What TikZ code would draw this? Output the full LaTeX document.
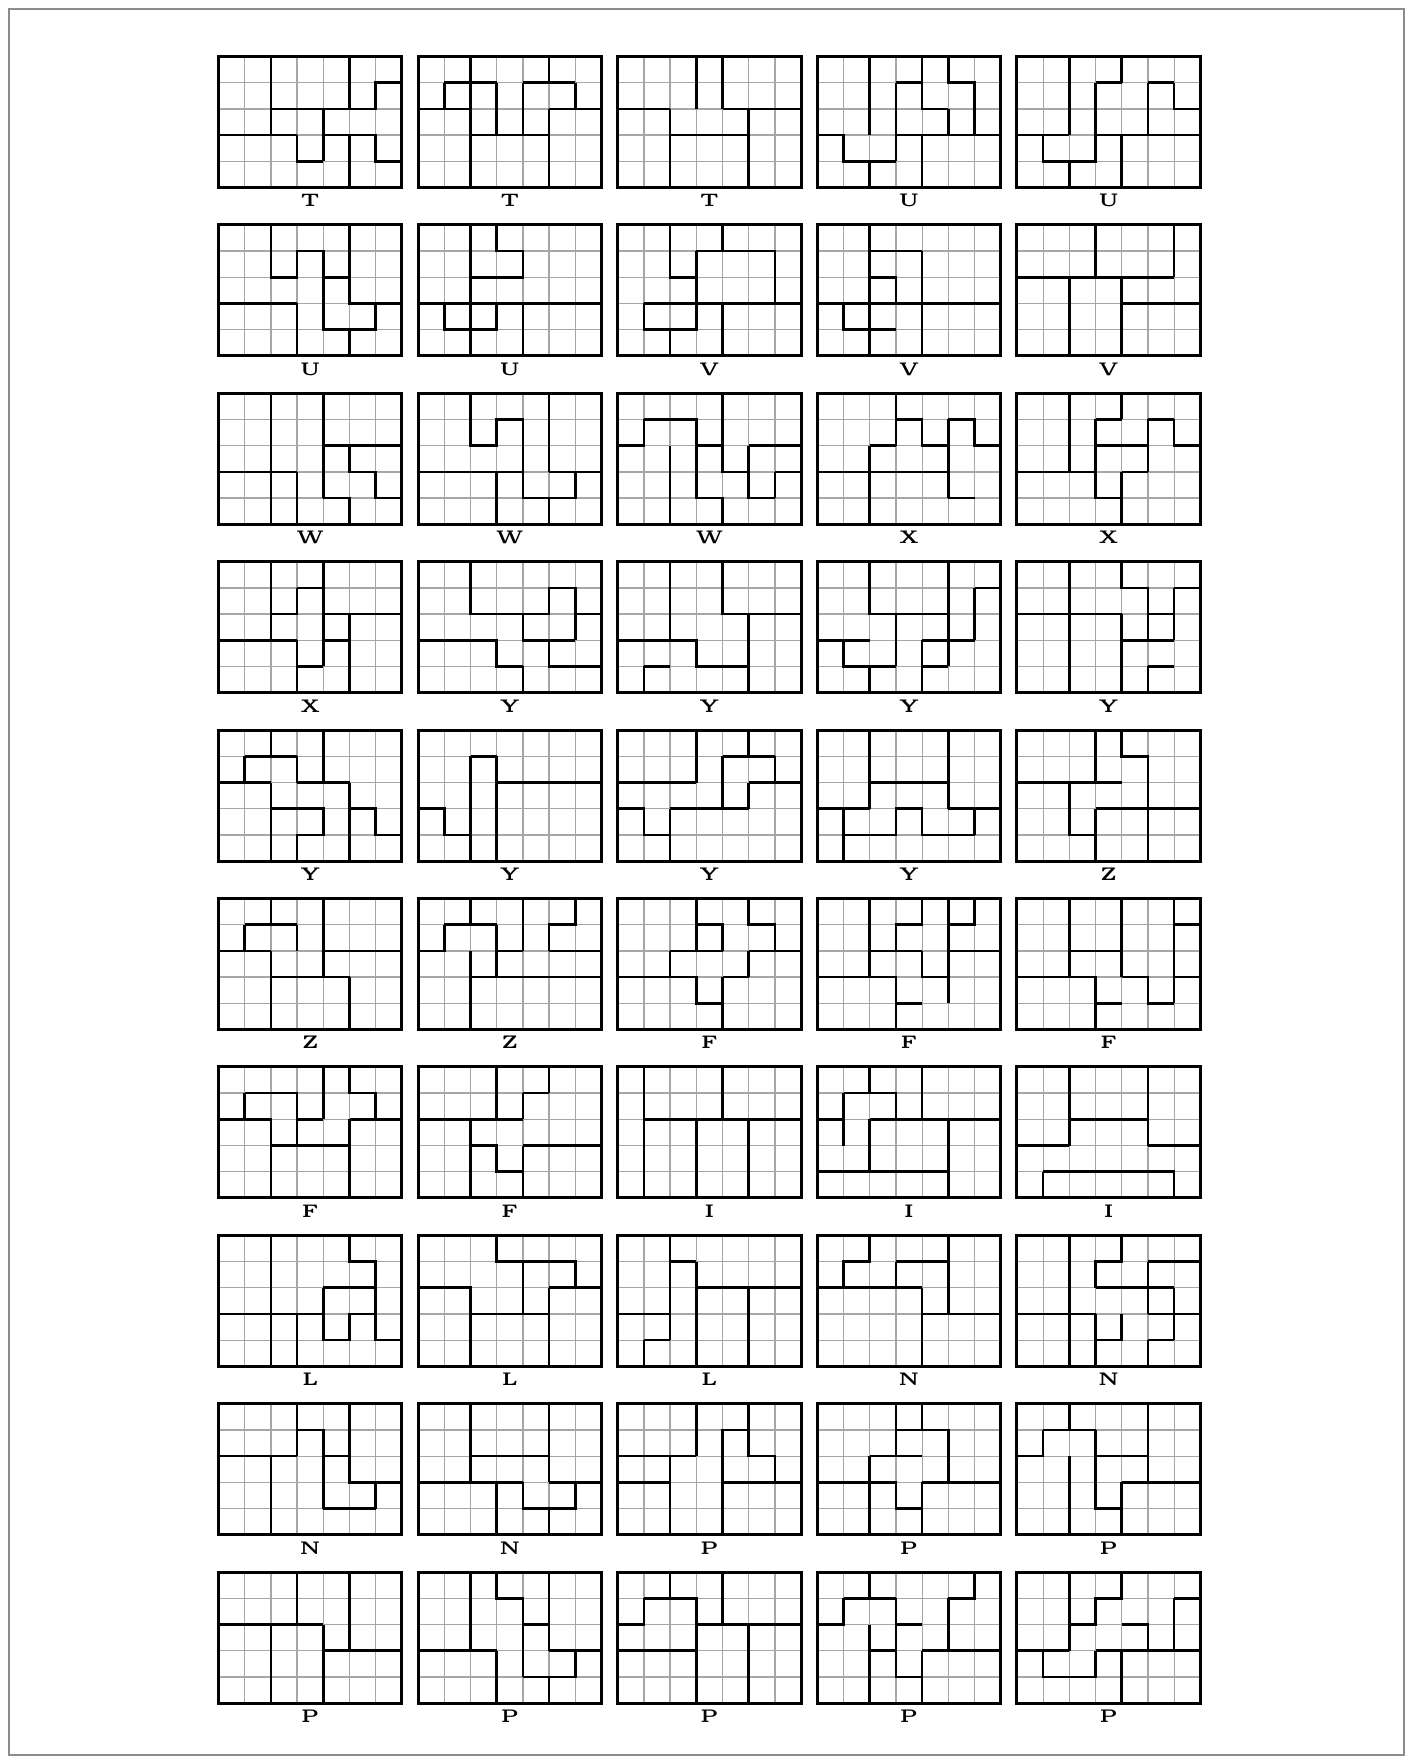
\documentclass[tikz,border=0pt]{standalone}
\usepackage{tikz}

% one 7x5 board: row, column, letter, thick piece edges (cell units, rows counted from the top)
\newcommand{\tilegrid}[4]{%
  \begin{scope}[xshift=2.185cm+#2*1.996cm, yshift=-0.565cm-#1*1.684cm, x=0.262cm, y=-0.262cm]
    \foreach \k in {1,...,6} \draw[cellline] (\k,0) -- (\k,5);
    \foreach \k in {1,...,4} \draw[cellline] (0,\k) -- (7,\k);
    \draw[piece] #4;
    \draw[frame] (0,0) rectangle (7,5);
    \node[lab] (lab-#1-#2) at (3.5,5.5) {#3};
  \end{scope}}

\begin{document}
\begin{tikzpicture}[
    cellline/.style={draw=black!35, line width=0.35pt},
    piece/.style={line width=0.75pt, line cap=square},
    frame/.style={line width=0.85pt},
    lab/.style={inner sep=0pt, font=\fontsize{5.2}{6}\selectfont\bfseries},
    pageframe/.style={draw=black!45, line width=0.4pt}]
\useasboundingbox (0,0) rectangle (14.13,-17.62);
\draw[pageframe] (0.09,-0.09) rectangle (14.04,-17.55);

% row 1
\tilegrid{0}{0}{T}{(2,0)--(2,3) (5,0)--(5,2) (2,2)--(6,2)--(6,1)--(7,1) (0,3)--(3,3) (4,2)--(4,4) (3,3)--(3,4)--(4,4) (4,3)--(6,3)--(6,4)--(7,4) (5,3)--(5,5)}
\tilegrid{0}{1}{T}{(2,0)--(2,5) (1,1)--(3,1) (1,1)--(1,2) (0,2)--(2,2) (3,1)--(3,3) (2,3)--(5,3) (4,1)--(4,3) (4,1)--(6,1) (5,0)--(5,1) (6,1)--(6,2) (5,2)--(7,2) (5,2)--(5,5)}
\tilegrid{0}{2}{T}{(3,0)--(3,2) (4,0)--(4,2) (0,2)--(2,2) (4,2)--(7,2) (2,2)--(2,5) (2,3)--(5,3) (5,2)--(5,5)}
\tilegrid{0}{3}{U}{(2,0)--(2,3) (3,1)--(4,1) (3,1)--(3,4) (4,0)--(4,2)--(5,2) (5,0)--(5,1)--(6,1)--(6,3) (5,2)--(5,3) (3,3)--(7,3) (4,3)--(4,5) (2,4)--(2,5) (0,3)--(1,3)--(1,4)--(3,4)}
\tilegrid{0}{4}{U}{(2,0)--(2,3) (3,1)--(4,1) (4,0)--(4,1) (3,1)--(3,3) (5,1)--(6,1) (5,1)--(5,3) (6,1)--(6,2)--(7,2) (0,3)--(2,3) (1,3)--(1,4)--(3,4)--(3,3) (3,3)--(7,3) (4,3)--(4,5) (2,4)--(2,5)}

% row 2
\tilegrid{1}{0}{U}{(2,0)--(2,2)--(3,2)--(3,1)--(4,1)--(4,2)--(5,2) (5,0)--(5,3)--(7,3) (4,2)--(4,4)--(6,4)--(6,3) (0,3)--(3,3) (3,3)--(3,5) (5,4)--(5,5)}
\tilegrid{1}{1}{U}{(2,0)--(2,5) (3,0)--(3,1)--(4,1)--(4,2)--(2,2) (0,3)--(7,3) (1,3)--(1,4)--(3,4)--(3,3) (4,3)--(4,5)}
\tilegrid{1}{2}{V}{(2,0)--(2,2)--(3,2) (3,1)--(3,3) (3,1)--(6,1)--(6,3) (4,0)--(4,1) (1,3)--(7,3) (1,3)--(1,4)--(3,4)--(3,3) (2,4)--(2,5) (4,3)--(4,5)}
\tilegrid{1}{3}{V}{(2,0)--(2,5) (2,1)--(4,1) (4,1)--(4,5) (2,2)--(3,2)--(3,3) (0,3)--(7,3) (1,3)--(1,4)--(3,4)}
\tilegrid{1}{4}{V}{(3,0)--(3,2) (6,0)--(6,2) (0,2)--(6,2) (2,2)--(2,5) (4,2)--(4,5) (4,3)--(7,3)}

% row 3
\tilegrid{2}{0}{W}{(2,0)--(2,5) (4,0)--(4,4) (4,2)--(7,2) (5,2)--(5,3)--(6,3)--(6,4)--(7,4) (4,4)--(5,4)--(5,5) (0,3)--(3,3) (3,3)--(3,5)}
\tilegrid{2}{1}{W}{(2,0)--(2,2)--(3,2)--(3,1)--(4,1)--(4,4)--(6,4)--(6,3)--(7,3) (5,0)--(5,3) (0,3)--(4,3) (3,3)--(3,5) (5,4)--(5,5) (5,3)--(6,3)}
\tilegrid{2}{2}{W}{(1,1)--(1,2)--(0,2) (1,1)--(3,1)--(3,4)--(4,4)--(4,5) (2,2)--(2,5) (3,2)--(4,2) (4,0)--(4,3)--(5,3) (5,2)--(7,2) (5,2)--(5,4)--(6,4) (6,3)--(7,3) (6,3)--(6,4)}
\tilegrid{2}{3}{X}{(3,0)--(3,2) (3,1)--(4,1)--(4,2)--(5,2) (5,1)--(5,4) (5,1)--(6,1)--(6,2)--(7,2) (2,2)--(3,2) (2,2)--(2,5) (0,3)--(5,3) (5,4)--(6,4)}
\tilegrid{2}{4}{X}{(2,0)--(2,3) (3,1)--(4,1) (3,1)--(3,2) (4,0)--(4,1) (5,1)--(6,1) (5,1)--(5,3) (6,1)--(6,2)--(7,2) (3,2)--(5,2) (3,2)--(3,4)--(4,4) (4,3)--(4,5) (0,3)--(3,3) (4,3)--(5,3)}

% row 4
\tilegrid{3}{0}{X}{(2,0)--(2,3) (3,1)--(4,1) (3,1)--(3,2)--(2,2) (4,0)--(4,4) (4,2)--(7,2) (5,2)--(5,5) (0,3)--(3,3) (4,3)--(5,3) (3,3)--(3,5) (3,4)--(4,4)}
\tilegrid{3}{1}{Y}{(2,0)--(2,2)--(5,2)--(5,1)--(6,1)--(6,3) (6,2)--(7,2) (0,3)--(3,3)--(3,4)--(4,4) (4,2)--(4,3)--(6,3) (5,3)--(5,4)--(7,4) (4,4)--(4,5)}
\tilegrid{3}{2}{Y}{(2,0)--(2,3) (4,0)--(4,2)--(7,2) (5,2)--(5,5) (0,3)--(3,3)--(3,4)--(5,4) (1,4)--(2,4) (1,4)--(1,5)}
\tilegrid{3}{3}{Y}{(2,0)--(2,2)--(5,2) (5,0)--(5,4) (6,1)--(7,1) (6,1)--(6,3) (3,2)--(3,4) (0,3)--(2,3) (1,3)--(1,4)--(3,4) (2,4)--(2,5) (4,3)--(6,3) (4,3)--(4,5) (4,4)--(5,4)}
\tilegrid{3}{4}{Y}{(2,0)--(2,5) (4,0)--(4,1)--(5,1)--(5,3) (6,1)--(7,1) (6,1)--(6,3) (0,2)--(4,2) (5,2)--(6,2) (4,2)--(4,5) (4,3)--(6,3) (5,4)--(6,4) (5,4)--(5,5)}

% row 5
\tilegrid{4}{0}{Y}{(2,0)--(2,1) (1,1)--(3,1) (1,1)--(1,2) (3,1)--(3,2) (0,2)--(2,2) (2,2)--(2,5) (3,2)--(5,2) (4,0)--(4,2) (5,2)--(5,3) (2,3)--(4,3)--(4,4)--(3,4)--(3,5) (5,3)--(6,3)--(6,4)--(7,4) (5,3)--(5,5)}
\tilegrid{4}{1}{Y}{(2,1)--(2,5) (2,1)--(3,1) (3,1)--(3,5) (3,2)--(7,2) (0,3)--(1,3)--(1,4)--(2,4)}
\tilegrid{4}{2}{Y}{(3,0)--(3,2) (5,0)--(5,1) (4,1)--(6,1) (4,1)--(4,3) (6,1)--(6,2) (0,2)--(3,2) (5,2)--(7,2) (5,2)--(5,3) (0,3)--(1,3)--(1,4)--(2,4) (2,3)--(2,5) (2,3)--(5,3)}
\tilegrid{4}{3}{Y}{(2,0)--(2,2)--(5,2) (5,0)--(5,3) (0,3)--(2,3) (2,2)--(2,3) (1,3)--(1,5) (1,4)--(3,4)--(3,3)--(4,3)--(4,4)--(6,4) (5,3)--(7,3) (6,3)--(6,4)}
\tilegrid{4}{4}{Z}{(3,0)--(3,2) (4,0)--(4,1)--(5,1)--(5,5) (0,2)--(4,2) (2,2)--(2,4)--(3,4) (3,3)--(3,5) (3,3)--(7,3)}

% row 6
\tilegrid{5}{0}{Z}{(2,0)--(2,1) (1,1)--(3,1) (1,1)--(1,2) (0,2)--(2,2) (3,1)--(3,2) (4,0)--(4,3) (4,2)--(7,2) (2,3)--(5,3) (2,2)--(2,5) (5,3)--(5,5)}
\tilegrid{5}{1}{Z}{(2,0)--(2,1) (1,1)--(3,1) (1,1)--(1,2)--(0,2) (3,1)--(3,3) (3,2)--(4,2) (4,0)--(4,2) (6,0)--(6,1)--(5,1)--(5,2) (5,2)--(7,2) (2,3)--(7,3) (2,2)--(2,5)}
\tilegrid{5}{2}{F}{(3,0)--(3,2) (3,1)--(4,1)--(4,2) (5,0)--(5,1)--(6,1)--(6,2) (2,2)--(4,2) (5,2)--(7,2) (5,2)--(5,3) (0,3)--(3,3)--(3,4)--(4,4) (4,3)--(4,5) (4,3)--(5,3) (2,2)--(2,3)}
\tilegrid{5}{3}{F}{(2,0)--(2,3) (4,0)--(4,1)--(3,1)--(3,2) (5,0)--(5,4) (5,1)--(6,1)--(6,0) (2,2)--(4,2) (5,2)--(7,2) (4,2)--(4,3)--(5,3) (0,3)--(3,3)--(3,5) (3,4)--(4,4)}
\tilegrid{5}{4}{F}{(2,0)--(2,3) (4,0)--(4,2) (6,0)--(6,4) (6,1)--(7,1) (2,2)--(4,2)--(4,3) (0,3)--(3,3)--(3,5) (4,3)--(5,3)--(5,4)--(6,4) (3,4)--(4,4) (6,3)--(7,3)}

% row 7
\tilegrid{6}{0}{F}{(4,0)--(4,2) (5,0)--(5,1)--(6,1)--(6,2) (1,1)--(3,1)--(3,2) (1,1)--(1,2)--(0,2) (1,2)--(2,2)--(2,5) (3,2)--(4,2) (3,2)--(3,3) (2,3)--(5,3) (5,2)--(7,2) (5,2)--(5,5)}
\tilegrid{6}{1}{F}{(3,0)--(3,2) (4,1)--(5,1) (4,1)--(4,2) (5,0)--(5,1) (0,2)--(4,2) (2,2)--(2,5) (2,3)--(3,3)--(3,4)--(4,4) (4,3)--(4,5) (4,3)--(7,3)}
\tilegrid{6}{2}{I}{(1,0)--(1,5) (4,0)--(4,2) (1,2)--(7,2) (3,2)--(3,5) (5,2)--(5,5)}
\tilegrid{6}{3}{I}{(2,0)--(2,1) (1,1)--(3,1)--(3,2) (1,1)--(1,3) (0,2)--(1,2) (2,2)--(7,2) (2,2)--(2,4) (4,0)--(4,2) (5,2)--(5,5) (0,4)--(5,4)}
\tilegrid{6}{4}{I}{(2,0)--(2,3) (2,2)--(5,2) (5,0)--(5,3) (0,3)--(2,3) (5,3)--(7,3) (1,4)--(1,5) (1,4)--(6,4)--(6,5)}

% row 8
\tilegrid{7}{0}{L}{(2,0)--(2,5) (5,0)--(5,1)--(6,1)--(6,4)--(7,4) (4,2)--(6,2) (4,2)--(4,4)--(5,4)--(5,3)--(6,3) (0,3)--(4,3) (3,3)--(3,5)}
\tilegrid{7}{1}{L}{(3,0)--(3,1)--(6,1)--(6,2) (4,1)--(4,3) (0,2)--(2,2)--(2,5) (5,2)--(7,2) (5,2)--(5,5) (2,3)--(5,3)}
\tilegrid{7}{2}{L}{(2,0)--(2,4) (2,1)--(3,1) (3,1)--(3,5) (3,2)--(7,2) (5,2)--(5,5) (0,3)--(2,3) (1,4)--(2,4) (1,4)--(1,5)}
\tilegrid{7}{3}{N}{(2,0)--(2,1)--(1,1)--(1,2) (0,2)--(4,2) (3,1)--(3,2) (3,1)--(5,1) (5,0)--(5,3) (4,2)--(4,5) (4,3)--(7,3)}
\tilegrid{7}{4}{N}{(2,0)--(2,5) (4,0)--(4,1)--(3,1)--(3,2) (5,1)--(7,1) (5,1)--(5,3) (3,2)--(6,2) (6,2)--(6,4) (0,3)--(3,3) (3,3)--(3,5) (5,3)--(7,3) (4,3)--(4,4)--(3,4) (5,4)--(6,4) (5,4)--(5,5)}

% row 9
\tilegrid{8}{0}{N}{(3,0)--(3,2) (3,1)--(4,1)--(4,4) (0,2)--(3,2) (2,2)--(2,5) (4,2)--(5,2) (5,0)--(5,3)--(7,3) (6,3)--(6,4) (4,4)--(6,4)}
\tilegrid{8}{1}{N}{(2,0)--(2,3) (2,2)--(5,2) (5,0)--(5,3) (0,3)--(4,3) (3,3)--(3,5) (5,3)--(7,3) (4,3)--(4,4)--(6,4)--(6,3) (5,4)--(5,5)}
\tilegrid{8}{2}{P}{(3,0)--(3,2) (5,0)--(5,1)--(4,1)--(4,5) (5,1)--(5,2)--(6,2)--(6,3) (0,2)--(3,2) (2,2)--(2,5) (0,3)--(2,3) (4,3)--(7,3)}
\tilegrid{8}{3}{P}{(3,0)--(3,2) (3,1)--(5,1)--(5,3) (2,2)--(4,2) (2,2)--(2,5) (4,0)--(4,1) (0,3)--(3,3)--(3,4)--(4,4) (4,3)--(4,5) (4,3)--(7,3)}
\tilegrid{8}{4}{P}{(2,0)--(2,1) (1,1)--(3,1) (1,1)--(1,2)--(0,2) (3,1)--(3,4)--(4,4) (2,2)--(2,5) (3,2)--(5,2) (5,0)--(5,3) (4,3)--(7,3) (4,3)--(4,5)}

% row 10
\tilegrid{9}{0}{P}{(3,0)--(3,2) (5,0)--(5,3) (0,2)--(4,2) (2,2)--(2,5) (4,2)--(4,5) (4,3)--(7,3)}
\tilegrid{9}{1}{P}{(2,0)--(2,3) (3,0)--(3,1)--(4,1)--(4,4) (4,2)--(5,2) (5,0)--(5,3) (0,3)--(3,3) (3,3)--(3,5) (5,3)--(7,3) (4,4)--(6,4)--(6,3) (5,4)--(5,5)}
\tilegrid{9}{2}{P}{(2,0)--(2,1) (1,1)--(3,1)--(3,2) (1,1)--(1,2)--(0,2) (4,0)--(4,2) (3,2)--(7,2) (3,2)--(3,5) (0,3)--(3,3) (5,2)--(5,5)}
\tilegrid{9}{3}{P}{(2,0)--(2,1) (1,1)--(3,1) (1,1)--(1,2)--(0,2) (3,1)--(3,4)--(4,4) (3,2)--(4,2) (5,1)--(5,3) (5,1)--(6,1)--(6,0) (2,2)--(2,5) (2,3)--(3,3) (4,3)--(4,5) (4,3)--(7,3)}
\tilegrid{9}{4}{P}{(2,0)--(2,3) (4,0)--(4,1)--(3,1)--(3,2)--(2,2) (6,1)--(7,1) (6,1)--(6,3) (4,2)--(5,2)--(5,3) (0,3)--(2,3) (1,3)--(1,4)--(3,4)--(3,3) (3,3)--(7,3) (4,3)--(4,5)}
\end{tikzpicture}
\end{document}
